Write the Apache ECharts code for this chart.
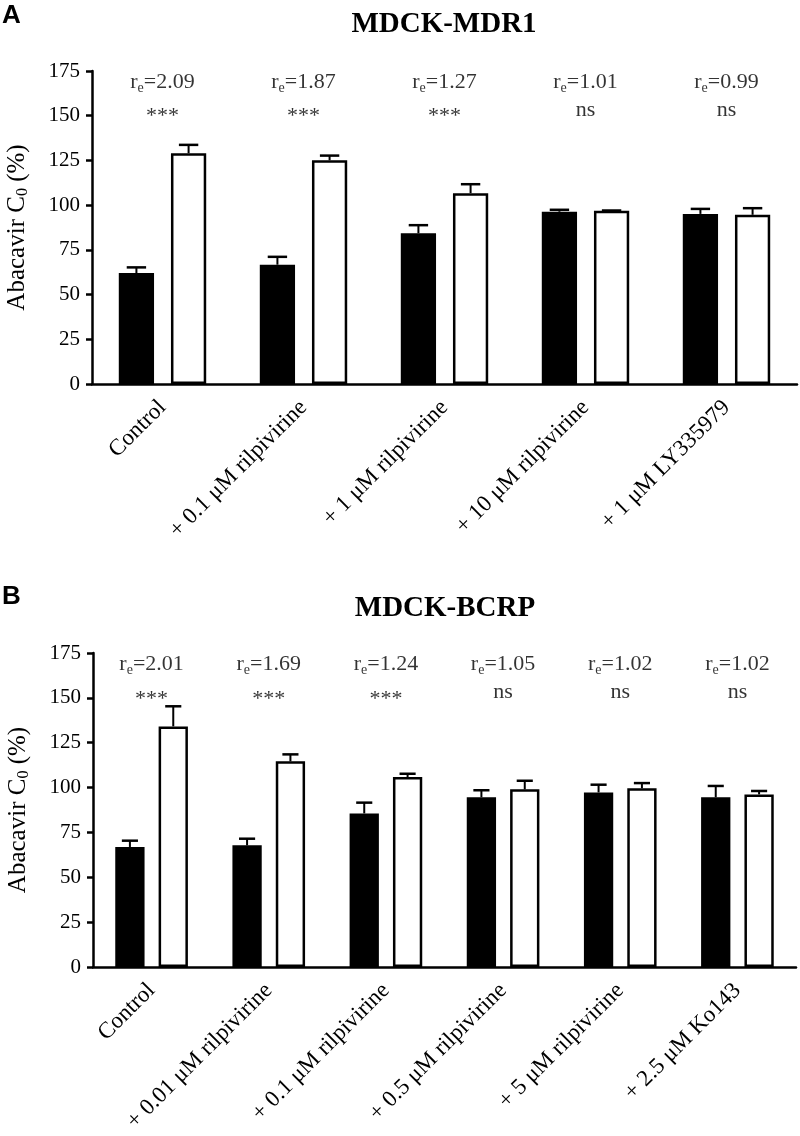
<!DOCTYPE html>
<html>
<head>
<meta charset="utf-8">
<script src="https://cdn.jsdelivr.net/npm/echarts@6/dist/echarts.min.js"></script>
<style>
html,body{margin:0;padding:0;background:#fff;}
#chart{width:800px;height:1136px;}
</style>
</head>
<body>
<div id="chart"></div>
<script>
// ---- Panel A: MDCK-MDR1 ----
var catsA = ['Control', '+ 0.1 μM rilpivirine', '+ 1 μM rilpivirine', '+ 10 μM rilpivirine', '+ 1 μM LY335979'];
var blackA = [62, 66.7, 84.3, 96.3, 95.1];
var blackUpA = [65.2, 71.1, 88.8, 97.4, 97.9];
var whiteA = [129, 125.1, 106.7, 96.8, 94.6];
var whiteUpA = [133.7, 127.7, 111.7, 97.0, 98.3];
var reA = ['2.09', '1.87', '1.27', '1.01', '0.99'];
var sigA = ['***', '***', '***', 'ns', 'ns'];

// ---- Panel B: MDCK-BCRP ----
var catsB = ['Control', '+ 0.01 μM rilpivirine', '+ 0.1 μM rilpivirine', '+ 0.5 μM rilpivirine', '+ 5 μM rilpivirine', '+ 2.5 μM Ko143'];
var blackB = [66.9, 67.8, 85.6, 94.6, 97.3, 94.6];
var blackUpB = [70.4, 71.5, 91.6, 98.5, 101.6, 100.9];
var whiteB = [134.1, 114.6, 105.9, 99.0, 99.6, 96.2];
var whiteUpB = [145.3, 118.5, 107.7, 103.8, 102.5, 98.1];
var reB = ['2.01', '1.69', '1.24', '1.05', '1.02', '1.02'];
var sigB = ['***', '***', '***', 'ns', 'ns', 'ns'];

var yTicks = [0, 25, 50, 75, 100, 125, 150, 175];

var SERIF = '"Liberation Serif", "Times New Roman", serif';
var BAR_W = 0.25, BAR_GAP = 0.48;

var chart = echarts.init(document.getElementById('chart'), null, {renderer: 'canvas'});

function errRender(sign) {
  return function (params, api) {
    var i = api.value(0);
    var p0 = api.coord([i, api.value(1)]);
    var p1 = api.coord([i, api.value(2)]);
    var bw = api.size([1, 0])[0];
    var cx = p0[0] + sign * bw * BAR_W * (1 + BAR_GAP) / 2;
    var cap = bw * BAR_W * 0.55;
    return {
      type: 'group',
      children: [
        {type: 'line', shape: {x1: cx, y1: p0[1], x2: cx, y2: p1[1]}, style: {stroke: '#000', lineWidth: 2}},
        {type: 'line', shape: {x1: cx - cap / 2, y1: p1[1], x2: cx + cap / 2, y2: p1[1]}, style: {stroke: '#000', lineWidth: 2.5}}
      ]
    };
  };
}

function xAxisOf(cats, gi) {
  return {
    type: 'category', gridIndex: gi, data: cats, boundaryGap: true,
    axisLine: {lineStyle: {color: '#000', width: 2.5}},
    axisTick: {alignWithLabel: true, length: 8, lineStyle: {color: '#000', width: 2.5}},
    axisLabel: {rotate: 45, interval: 0, margin: 20, color: '#000', fontFamily: SERIF, fontSize: 23}
  };
}
function yAxisOf(gi) {
  return {
    type: 'value', gridIndex: gi, min: yTicks[0], max: yTicks[yTicks.length - 1], interval: 25,
    name: 'Abacavir C{s|0} (%)', nameLocation: 'middle', nameGap: 61,
    nameTextStyle: {color: '#000', fontFamily: SERIF, fontSize: 25,
      rich: {s: {fontFamily: SERIF, fontSize: 16, padding: [12, 0, 0, 0]}}},
    axisLine: {show: true, lineStyle: {color: '#000', width: 2.5}},
    axisTick: {show: true, length: 6, lineStyle: {color: '#000', width: 2.5}},
    axisLabel: {margin: 12, color: '#000', fontFamily: SERIF, fontSize: 21},
    splitLine: {show: false}
  };
}

function panelSeries(gi, black, blackUp, white, whiteUp, re, sig) {
  var idx = black.map(function (_, i) { return i; });
  return [
    {type: 'bar', xAxisIndex: gi, yAxisIndex: gi, data: black, barWidth: (BAR_W * 100) + '%', barGap: (BAR_GAP * 100) + '%',
      itemStyle: {color: '#000', borderColor: '#000', borderWidth: 2}, silent: true},
    {type: 'bar', xAxisIndex: gi, yAxisIndex: gi, data: white, barWidth: (BAR_W * 100) + '%', barGap: (BAR_GAP * 100) + '%',
      itemStyle: {color: '#fff', borderColor: '#000', borderWidth: 2.5}, silent: true},
    {type: 'custom', xAxisIndex: gi, yAxisIndex: gi, z: 5, silent: true, renderItem: errRender(-1),
      data: idx.map(function (i) { return [i, black[i], blackUp[i]]; })},
    {type: 'custom', xAxisIndex: gi, yAxisIndex: gi, z: 5, silent: true, renderItem: errRender(1),
      data: idx.map(function (i) { return [i, white[i], whiteUp[i]]; })},
    {type: 'scatter', xAxisIndex: gi, yAxisIndex: gi, symbolSize: 0, silent: true,
      data: idx.map(function (i) { return [i, 169]; }),
      label: {show: true, position: 'inside', color: '#000',
        formatter: function (p) { return '{m|r}{s|e}{m|=' + re[p.dataIndex] + '}'; },
        rich: {m: {fontFamily: SERIF, fontSize: 22, color: '#000'},
               s: {fontFamily: SERIF, fontSize: 14, color: '#000', padding: [13, 0, 0, 0]}}}},
    {type: 'scatter', xAxisIndex: gi, yAxisIndex: gi, symbolSize: 0, silent: true,
      data: idx.map(function (i) { return [i, sig[i] === 'ns' ? 153 : 149.5]; }),
      label: {show: true, position: 'inside', color: '#000', fontFamily: SERIF, fontSize: 22,
        formatter: function (p) { return sig[p.dataIndex]; }}}
  ];
}

var option = {
  animation: false,
  backgroundColor: '#fff',
  grid: [
    {left: 92, top: 71, width: 705, height: 313, containLabel: false, outerBoundsMode: 'none'},
    {left: 93, top: 653, width: 703, height: 314, containLabel: false, outerBoundsMode: 'none'}
  ],
  xAxis: [xAxisOf(catsA, 0), xAxisOf(catsB, 1)],
  yAxis: [yAxisOf(0), yAxisOf(1)],
  graphic: [
    {type: 'text', x: 2, y: 3, style: {text: 'A', fontFamily: '"Liberation Sans", Arial, sans-serif', fontWeight: 'bold', fontSize: 26, fill: '#000'}},
    {type: 'text', x: 444, y: 10, style: {text: 'MDCK-MDR1', fontFamily: SERIF, fontWeight: 'bold', fontSize: 29, fill: '#000', textAlign: 'center'}},
    {type: 'text', x: 2, y: 584, style: {text: 'B', fontFamily: '"Liberation Sans", Arial, sans-serif', fontWeight: 'bold', fontSize: 26, fill: '#000'}},
    {type: 'text', x: 445, y: 594, style: {text: 'MDCK-BCRP', fontFamily: SERIF, fontWeight: 'bold', fontSize: 29, fill: '#000', textAlign: 'center'}}
  ],
  series: [].concat(
    panelSeries(0, blackA, blackUpA, whiteA, whiteUpA, reA, sigA),
    panelSeries(1, blackB, blackUpB, whiteB, whiteUpB, reB, sigB)
  )
};
chart.setOption(option);
</script>
</body>
</html>
